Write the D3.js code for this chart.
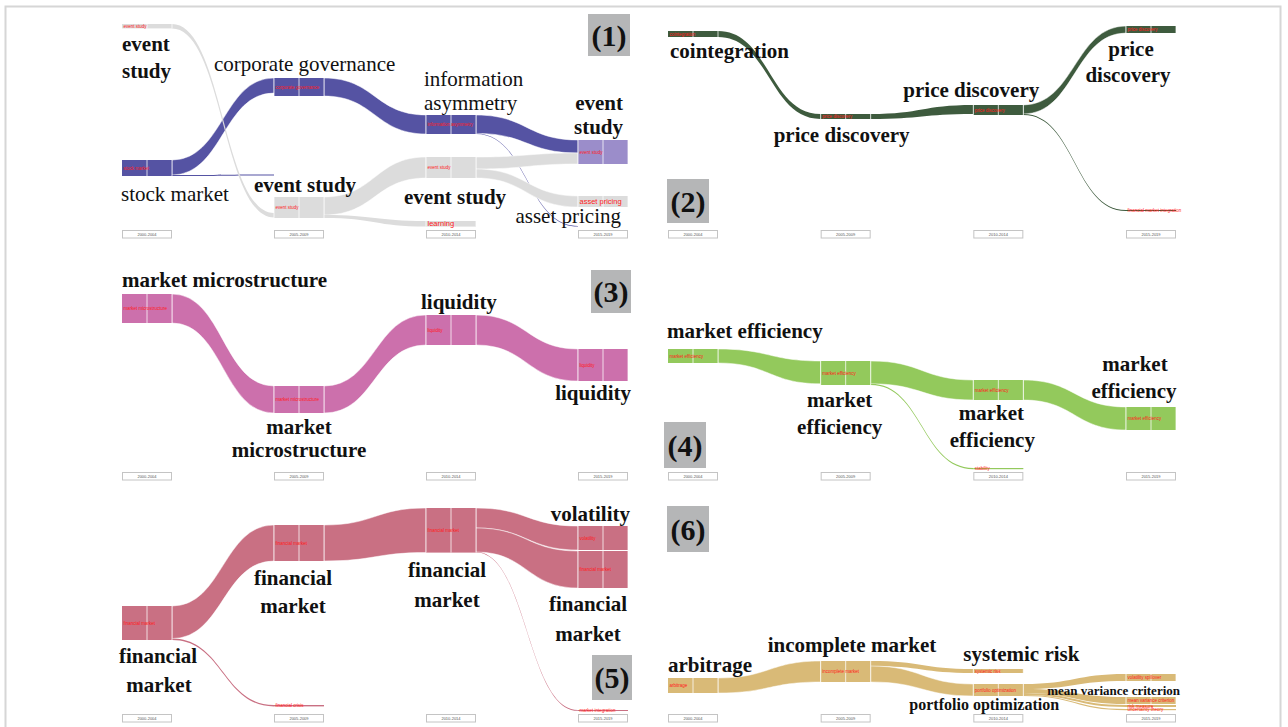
<!DOCTYPE html>
<html>
<head>
<meta charset="utf-8">
<script src="https://cdn.jsdelivr.net/npm/d3@7"></script>
<style>
  html, body { margin: 0; padding: 0; background: #fff; }
  svg { display: block; }
</style>
</head>
<body>
<svg id="chart" width="1288" height="727"></svg>
<script>
// ---- Time windows (one column per window) ----
const periods = ["2000-2004", "2005-2009", "2010-2014", "2015-2019"];

// ---- Panel 1 : event study ----
// node: [id, name, period, top, size, module]
const p1Nodes = [
  ["es0", "event study", 0, 2, 2.2, "gray"],
  ["sm0", "stock market", 0, 70, 8, "purple"],
  ["cg1", "corporate governance", 1, 29, 9, "purple"],
  ["sm1", "stock market", 1, 77.2, 0.5, "none"],
  ["es1", "event study", 1, 88.5, 10.5, "gray"],
  ["ia2", "information asymmetry", 2, 47.5, 9.5, "purple"],
  ["es2", "event study", 2, 68.5, 10.5, "gray"],
  ["learn2", "learning", 2, 100.5, 2.8, "gray"],
  ["es3", "event study", 3, 60, 12, "lilac"],
  ["ap3", "asset pricing", 3, 88, 5.5, "gray"],
  ["ex3", "asset pricing", 3, 103, 0.3, "none"]
];
// link: [source, target, size at source, size at target]
const p1Links = [
  ["sm0", "cg1", 7.5, 7.5],
  ["sm0", "sm1", 0.5, 0.5],
  ["cg1", "ia2", 9, 9.5],
  ["es1", "es2", 9, 10.5],
  ["es1", "learn2", 1.5, 2.8],
  ["ia2", "es3", 9.2, 6.5],
  ["ia2", "ex3", 0.3, 0.3],
  ["es2", "es3", 6, 5.5],
  ["es2", "ap3", 4.5, 5.5],
  ["es0", "es1", 2.2, 2.2]
];

// ---- Panel 2 : price discovery ----
const p2Nodes = [
  ["co0", "cointegration", 0, 5.5, 3, "forest"],
  ["pd1", "price discovery", 1, 47, 2.5, "forest"],
  ["pd2", "price discovery", 2, 42.5, 5, "forest"],
  ["pd3", "price discovery", 3, 3, 3.5, "forest"],
  ["fi3", "financial market integration", 3, 95, 0.5, "forest"]
];
const p2Links = [
  ["co0", "pd1", 3, 2.5],
  ["pd1", "pd2", 2.5, 4.5],
  ["pd2", "pd3", 4.5, 3.5],
  ["pd2", "fi3", 0.5, 0.5]
];

// ---- Panel 3 : market microstructure ----
const p3Nodes = [
  ["mm0", "market microstructure", 0, 16, 14.5, "orchid"],
  ["mm1", "market microstructure", 1, 62, 13.5, "orchid"],
  ["lq2", "liquidity", 2, 26.5, 15, "orchid"],
  ["lq3", "liquidity", 3, 43.5, 16, "orchid"]
];
const p3Links = [
  ["mm0", "mm1", 14.5, 13.5],
  ["mm1", "lq2", 13.5, 15],
  ["lq2", "lq3", 15, 16]
];

// ---- Panel 4 : market efficiency ----
const p4Nodes = [
  ["me0", "market efficiency", 0, 43.5, 7, "lime"],
  ["me1", "market efficiency", 1, 49.5, 12, "lime"],
  ["me2", "market efficiency", 2, 59, 10, "lime"],
  ["st2", "stability", 2, 103, 0.6, "lime"],
  ["me3", "market efficiency", 3, 72.5, 11.5, "lime"]
];
const p4Links = [
  ["me0", "me1", 7, 11.4],
  ["me1", "me2", 11.4, 10],
  ["me1", "st2", 0.6, 0.6],
  ["me2", "me3", 10, 11.5]
];

// ---- Panel 5 : financial market ----
const p5Nodes = [
  ["fm0", "financial market", 0, 51, 17, "rose"],
  ["fm1", "financial market", 1, 10.5, 18, "rose"],
  ["fc1", "financial crisis", 1, 100.5, 0.7, "rose"],
  ["fm2", "financial market", 2, 2, 22.3, "rose"],
  ["vo3", "volatility", 3, 11, 12, "rose"],
  ["fm3", "financial market", 3, 23.5, 18.5, "rose"],
  ["mi3", "market integration", 3, 103, 0.4, "rose"]
];
const p5Links = [
  ["fm0", "fm1", 16.3, 18],
  ["fm0", "fc1", 0.7, 0.7],
  ["fm1", "fm2", 18, 22.3],
  ["fm2", "vo3", 10, 12],
  ["fm2", "fm3", 12, 18.5],
  ["fm2", "mi3", 0.3, 0.4]
];

// ---- Panel 6 : arbitrage ----
const p6Nodes = [
  ["ar0", "arbitrage", 0, 87, 7.5, "tan"],
  ["im1", "incomplete market", 1, 78.5, 10.5, "tan"],
  ["sr2", "systemic risk", 2, 82.5, 2, "tan"],
  ["po2", "portfolio optimization", 2, 90, 6, "tan"],
  ["vs3", "volatility spillover", 3, 85, 3.5, "tan"],
  ["mv3", "mean variance criterion", 3, 96.5, 3.5, "tan"],
  ["rm3", "risk measure", 3, 100.5, 1, "tan"],
  ["ut3", "uncertainty theory", 3, 102.5, 0.6, "tan"]
];
const p6Links = [
  ["ar0", "im1", 7.5, 10.5],
  ["im1", "sr2", 2.5, 2],
  ["im1", "po2", 8, 6],
  ["po2", "vs3", 2.5, 3.5],
  ["po2", "mv3", 2, 3.5],
  ["po2", "rm3", 1, 1],
  ["po2", "ut3", 0.5, 0.6]
];

// ---- Module colours ----
const moduleColor = {
  gray: "#dcdcdc", purple: "#5553a3", lilac: "#9b8dca",
  forest: "#3e5b3e", orchid: "#cc70ac", lime: "#93c95c",
  rose: "#c97083", tan: "#d9ba77"
};

// ---- Layout of the six panels ----
const panels = [
  { nodes: p1Nodes, links: p1Links, side: 0, row: 0, badge: "(1)",
    badgeBox: [466, -6, 42, 42], inOffset: { es1: 8 }, bigTags: ["learn2", "ap3"],
    labels: [
      ["es0", "event", 0, 27, "start", "bold", 21],
      ["es0", "study", 0, 54, "start", "bold", 21],
      ["cg1", "corporate governance", -60, -7, "start", "normal", 21],
      ["sm0", "stock market", -1, 41, "start", "normal", 21],
      ["es1", "event study", -20, -5, "start", "bold", 21],
      ["ia2", "information", -2, -29, "start", "normal", 21],
      ["ia2", "asymmetry", -2, -5, "start", "normal", 21],
      ["es2", "event study", -22, 47, "start", "bold", 21],
      ["es3", "event", 45, -30, "end", "bold", 21],
      ["es3", "study", 45, -6, "end", "bold", 21],
      ["ap3", "asset pricing", 43, 27, "end", "normal", 21]
    ] },
  { nodes: p2Nodes, links: p2Links, side: 1, row: 0, badge: "(2)",
    badgeBox: [-1, 159, 42, 44], inOffset: {}, bigTags: [],
    labels: [
      ["co0", "cointegration", 2, 27, "start", "bold", 21],
      ["pd1", "price discovery", -47, 28, "start", "bold", 21],
      ["pd2", "price discovery", -70, -8, "start", "bold", 21],
      ["pd3", "price", 5, 30, "middle", "bold", 21],
      ["pd3", "discovery", 2, 56, "middle", "bold", 21]
    ] },
  { nodes: p3Nodes, links: p3Links, side: 0, row: 1, badge: "(3)",
    badgeBox: [469, 8, 40, 43], inOffset: {}, bigTags: [],
    labels: [
      ["mm0", "market microstructure", 0, -7, "start", "bold", 21],
      ["mm1", "market", 25, 48, "middle", "bold", 21],
      ["mm1", "microstructure", 25, 71, "middle", "bold", 21],
      ["lq2", "liquidity", -5, -6, "start", "bold", 21],
      ["lq3", "liquidity", 53, 51, "end", "bold", 21]
    ] },
  { nodes: p4Nodes, links: p4Links, side: 1, row: 1, badge: "(4)",
    badgeBox: [-4, 160, 42, 46], inOffset: {}, bigTags: [],
    labels: [
      ["me0", "market efficiency", -1, -11, "start", "bold", 21],
      ["me1", "market", 19, 46, "middle", "bold", 21],
      ["me1", "efficiency", 19, 73, "middle", "bold", 21],
      ["me2", "market", 18, 40, "middle", "bold", 21],
      ["me2", "efficiency", 19, 67, "middle", "bold", 21],
      ["me3", "market", 9, -36, "middle", "bold", 21],
      ["me3", "efficiency", 8, -9, "middle", "bold", 21]
    ] },
  { nodes: p5Nodes, links: p5Links, side: 0, row: 2, badge: "(5)",
    badgeBox: [470, 151, 40, 45], inOffset: {}, bigTags: [],
    labels: [
      ["fm0", "financial", 36, 57, "middle", "bold", 21],
      ["fm0", "market", 37, 86, "middle", "bold", 21],
      ["fm1", "financial", 19, 60, "middle", "bold", 21],
      ["fm1", "market", 19, 88, "middle", "bold", 21],
      ["fm2", "financial", 21, 69, "middle", "bold", 21],
      ["fm2", "market", 21, 99, "middle", "bold", 21],
      ["vo3", "volatility", 52, -5, "end", "bold", 21],
      ["fm3", "financial", 10, 60, "middle", "bold", 21],
      ["fm3", "market", 10, 90, "middle", "bold", 21]
    ] },
  { nodes: p6Nodes, links: p6Links, side: 1, row: 2, badge: "(6)",
    badgeBox: [-1, 2, 42, 46], inOffset: {}, bigTags: [],
    labels: [
      ["ar0", "arbitrage", 0, -6, "start", "bold", 21],
      ["im1", "incomplete market", -53, -9, "start", "bold", 21],
      ["sr2", "systemic risk", -10, -8, "start", "bold", 21],
      ["po2", "portfolio optimization", -64, 26, "start", "bold", 16],
      ["vs3", "mean variance criterion", 54, 21, "end", "bold", 13]
    ] }
];

const serif = "'Liberation Serif', 'Times New Roman', Times, serif";
const nodeW = 50;
const rowTops = [20, 262, 504];
const sideRanges = [[122, 578], [668, 1126]];
const svg = d3.select("#chart");

// outer frame
svg.append("rect")
  .attr("x", 5.5).attr("y", 6.5).attr("width", 1275).attr("height", 760)
  .attr("fill", "none").attr("stroke", "#d6d6d6").attr("stroke-width", 2);

const bandArea = d3.area()
  .x(d => d.x).y0(d => d.y0).y1(d => d.y1)
  .curve(d3.curveBumpX);

panels.forEach(p => {
  const top = rowTops[p.row];
  const x = d3.scalePoint().domain(d3.range(periods.length)).range(sideRanges[p.side]);
  const y = d3.scaleLinear().domain([0, 105]).range([top, top + 210]);
  const k = y(1) - y(0);
  const g = svg.append("g");

  const nodes = new Map(p.nodes.map(([id, name, col, t, size, mod]) => [id, {
    id, name, col, top: t, size, mod,
    outAcc: t, inAcc: t + (p.inOffset[id] || 0)
  }]));

  const links = p.links.map(([s, t, sv, tv]) => {
    const S = nodes.get(s), T = nodes.get(t);
    const l = { S, T, sv, tv, sy: S.outAcc, ty: T.inAcc };
    S.outAcc += sv; T.inAcc += tv;
    return l;
  });

  // streams
  g.append("g").selectAll("path").data(links).join("path")
    .attr("d", l => bandArea([
      { x: x(l.S.col) + nodeW, y0: y(l.sy), y1: y(l.sy + l.sv) },
      { x: x(l.T.col), y0: y(l.ty), y1: y(l.ty + l.tv) }
    ]))
    .attr("fill", l => moduleColor[l.S.mod])
    .attr("stroke", l => (l.sv * k > 6 && l.tv * k > 6) ? "#fff" : "none")
    .attr("stroke-width", 0.6)
    .attr("stroke-opacity", 0.8);

  // modules
  const shown = [...nodes.values()].filter(n => n.mod !== "none");
  const ng = g.append("g").selectAll("g").data(shown).join("g");
  ng.append("rect")
    .attr("x", n => x(n.col)).attr("y", n => y(n.top))
    .attr("width", nodeW).attr("height", n => Math.max(1, n.size * k))
    .attr("fill", n => moduleColor[n.mod]);
  ng.filter(n => n.size * k > 3).selectAll("line")
    .data(n => [0, 0.5, 1].filter(f => !(f === 0 && n.col === 0)).map(f => ({ n, f })))
    .join("line")
    .attr("x1", d => x(d.n.col) + d.f * nodeW).attr("x2", d => x(d.n.col) + d.f * nodeW)
    .attr("y1", d => y(d.n.top)).attr("y2", d => y(d.n.top + d.n.size))
    .attr("stroke", "#fff").attr("stroke-opacity", 0.75).attr("stroke-width", 1);

  // module names in red
  ng.append("text")
    .attr("x", n => x(n.col) + 1.5)
    .attr("y", n => y(n.top + n.size / 2) + (p.bigTags.includes(n.id) ? 2.5 : 1.5))
    .attr("font-family", "'Liberation Sans', Arial, sans-serif")
    .attr("font-size", n => p.bigTags.includes(n.id) ? 7.5 : 4.5)
    .attr("fill", "#ff1a1a")
    .text(n => n.name);

  // period boxes
  const pb = g.append("g").selectAll("g").data(periods).join("g")
    .attr("transform", (d, i) => `translate(${x(i)},${y(105)})`);
  pb.append("rect").attr("x", 0.5).attr("y", 0.5).attr("width", nodeW - 1).attr("height", 7.5)
    .attr("fill", "#fff").attr("stroke", "#c4c4c4").attr("stroke-width", 1);
  pb.append("text").attr("x", nodeW / 2).attr("y", 5.8)
    .attr("text-anchor", "middle").attr("font-family", "'Liberation Sans', Arial, sans-serif")
    .attr("font-size", 4).attr("fill", "#555").text(d => d);

  // topic labels
  g.append("g").selectAll("text").data(p.labels).join("text")
    .attr("x", d => x(nodes.get(d[0]).col) + d[2])
    .attr("y", d => y(nodes.get(d[0]).top) + d[3])
    .attr("text-anchor", d => d[4])
    .attr("font-weight", d => d[5])
    .attr("font-size", d => d[6])
    .attr("font-family", serif)
    .attr("fill", "#111")
    .text(d => d[1]);

  // panel badge
  const [bx, by, bw, bh] = p.badgeBox;
  const bg = g.append("g").attr("transform", `translate(${x(0) + bx},${top + by})`);
  bg.append("rect").attr("width", bw).attr("height", bh).attr("fill", "#b5b6b7");
  bg.append("text").attr("x", bw / 2).attr("y", bh / 2 + 10.5)
    .attr("text-anchor", "middle").attr("font-family", serif)
    .attr("font-weight", "bold").attr("font-size", 30).attr("fill", "#111")
    .text(p.badge);
});
</script>
</body>
</html>
